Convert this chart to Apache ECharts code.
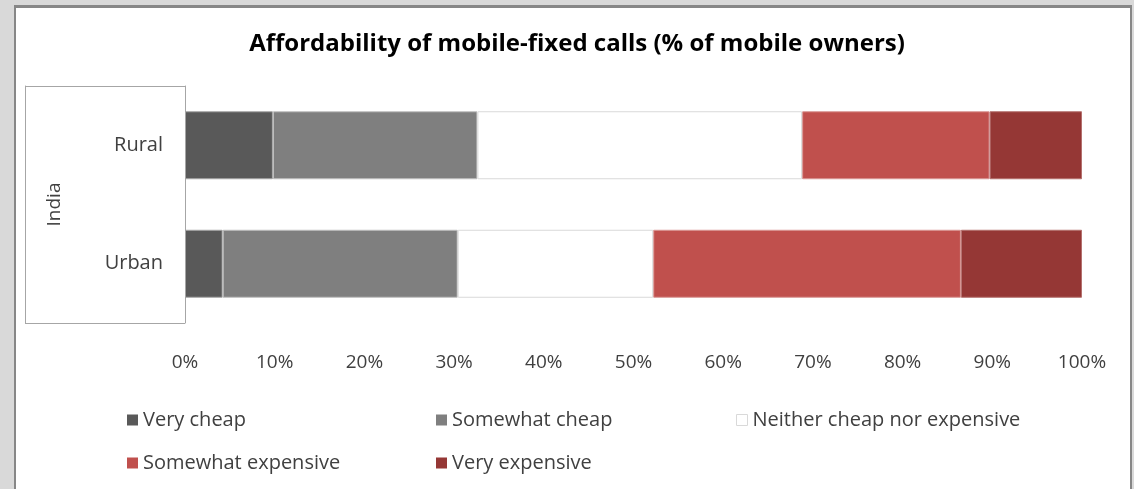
<!DOCTYPE html>
<html>
<head>
<meta charset="utf-8">
<script src="https://cdn.jsdelivr.net/npm/echarts@6/dist/echarts.min.js"></script>
<style>
  html, body { margin: 0; padding: 0; background: #d9d9d9; }
  #frame {
    position: absolute; left: 14px; top: 5px; width: 1114px; height: 484px;
    background: #ffffff; border-top: 3px solid #878787;
    border-left: 2px solid #878787; border-right: 2px solid #878787;
  }
  #chart { position: absolute; left: 0; top: 0; width: 1134px; height: 489px; }
</style>
</head>
<body>
<div id="frame"></div>
<div id="chart"></div>
<script>
const categories = ["Rural", "Urban"];
const groupLabel = ["India"];
const seriesNames = ["Very cheap", "Somewhat cheap", "Neither cheap nor expensive", "Somewhat expensive", "Very expensive"];
const veryCheap = [9.8, 4.2];
const somewhatCheap = [22.8, 26.2];
const neither = [36.2, 21.8];
const somewhatExpensive = [20.9, 34.3];
const veryExpensive = [10.3, 13.5];
const xTicks = { min: 0, max: 100, interval: 10 };

const fills = ["#595959", "#7f7f7f", "#ffffff", "#c0504d", "#953735"];
const edges = ["#a6a6a6", "#bfbfbf", "#d9d9d9", "#d99694", "#b4706e"];
const values = [veryCheap, somewhatCheap, neither, somewhatExpensive, veryExpensive];
const font = "'Open Sans', sans-serif";
const textColor = "#404040";

const legendSpots = [
  { left: 127, top: 410 },
  { left: 436, top: 410 },
  { left: 736, top: 410 },
  { left: 127, top: 453 },
  { left: 436, top: 453 }
];

const chart = echarts.init(document.getElementById("chart"));

chart.setOption({
  animation: false,
  backgroundColor: "transparent",
  title: {
    text: "Affordability of mobile-fixed calls (% of mobile owners)",
    left: 572,
    top: 27,
    textAlign: "center",
    textStyle: { fontFamily: font, fontSize: 24, fontWeight: "bold", color: "#000000" }
  },
  legend: seriesNames.map((name, i) => ({
    data: [name],
    left: legendSpots[i].left,
    top: legendSpots[i].top,
    icon: "rect",
    itemWidth: 11,
    itemHeight: 11,
    itemGap: 4,
    padding: 0,
    selectedMode: false,
    itemStyle: { borderWidth: i === 2 ? 1 : 0, borderColor: edges[i] },
    textStyle: { fontFamily: font, fontSize: 20, color: textColor, padding: [0, 0, 0, 0] }
  })),
  grid: { left: 185, right: 52, top: 86, bottom: 166 },
  xAxis: {
    type: "value",
    min: xTicks.min,
    max: xTicks.max,
    interval: xTicks.interval,
    axisLine: { show: false },
    axisTick: { show: false },
    splitLine: { show: false },
    axisLabel: {
      formatter: "{value}%",
      margin: 30,
      fontFamily: font,
      fontSize: 19,
      color: textColor
    }
  },
  yAxis: [
    {
      type: "category",
      data: categories,
      inverse: true,
      axisLine: { lineStyle: { color: "#a6a6a6" } },
      axisTick: { show: false },
      axisLabel: { margin: 22, fontFamily: font, fontSize: 20, color: textColor }
    },
    {
      type: "category",
      data: groupLabel,
      position: "left",
      offset: 160,
      axisLine: { show: true, lineStyle: { color: "#a6a6a6" } },
      axisTick: { show: true, inside: true, length: 160, lineStyle: { color: "#a6a6a6" } },
      axisLabel: { show: false },
      name: groupLabel[0],
      nameLocation: "middle",
      nameRotate: 90,
      nameGap: -39,
      nameTextStyle: { fontFamily: font, fontSize: 19, color: textColor }
    }
  ],
  series: seriesNames.map((name, i) => ({
    name: name,
    type: "bar",
    stack: "total",
    yAxisIndex: 0,
    barWidth: 68,
    data: values[i],
    itemStyle: { color: fills[i], borderColor: edges[i], borderWidth: 1 }
  }))
});
</script>
</body>
</html>
